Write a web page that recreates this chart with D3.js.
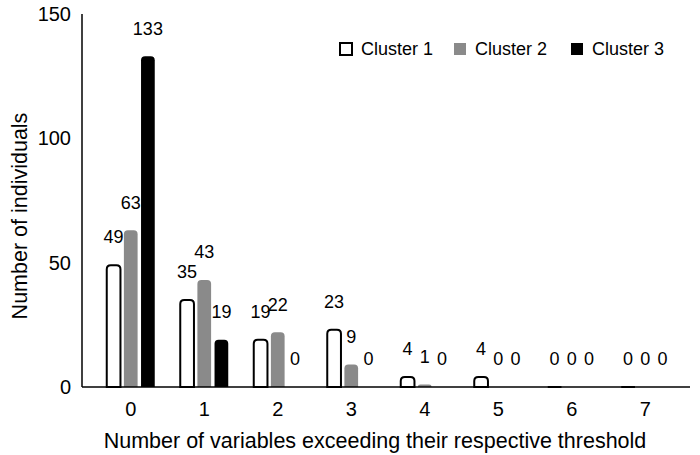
<!DOCTYPE html>
<html>
<head>
<meta charset="utf-8">
<script src="https://cdn.jsdelivr.net/npm/d3@7"></script>
<style>
  body { margin: 0; background: #fff; }
  text { font-family: "Liberation Sans", Arial, sans-serif; fill: #000; }
</style>
</head>
<body>
<svg id="chart" width="700" height="455"></svg>
<script>
const categories = ["0", "1", "2", "3", "4", "5", "6", "7"];
const seriesNames = ["Cluster 1", "Cluster 2", "Cluster 3"];
const cluster1 = [49, 35, 19, 23, 4, 4, 0, 0];
const cluster2 = [63, 43, 22, 9, 1, 0, 0, 0];
const cluster3 = [133, 19, 0, 0, 0, 0, 0, 0];
const yTicks = [0, 50, 100, 150];

const series = [
  { name: seriesNames[0], values: cluster1, fill: "#fff", stroke: "#000" },
  { name: seriesNames[1], values: cluster2, fill: "#8a8a8a", stroke: "none" },
  { name: seriesNames[2], values: cluster3, fill: "#000", stroke: "none" },
];

const svg = d3.select("#chart");

const x = d3.scaleBand().domain(categories).range([94, 682]);
const xInner = d3.scaleBand().domain(seriesNames).range([-24, 24]).paddingInner(0.2);
const y = d3.scaleLinear().domain([0, 150]).range([387, 14]);

// bar with rounded top corners (also draws a flat line when value is 0)
function barPath(x0, w, top, base, r) {
  r = Math.min(r, (base - top), w / 2);
  return `M${x0},${base}V${top + r}Q${x0},${top} ${x0 + r},${top}H${x0 + w - r}Q${x0 + w},${top} ${x0 + w},${top + r}V${base}Z`;
}

const groups = svg.selectAll(".grp")
  .data(series)
  .enter()
  .append("g")
  .attr("class", "grp");

groups.each(function (s) {
  const g = d3.select(this);
  const bw = xInner.bandwidth();
  s.values.forEach((v, i) => {
    const cx = x(categories[i]) + x.bandwidth() / 2 + xInner(s.name);
    if (v > 0 || s.stroke !== "none") {
      g.append("path")
        .attr("d", barPath(cx, bw, y(v), y(0), 4))
        .attr("fill", s.fill)
        .attr("stroke", s.stroke)
        .attr("stroke-width", s.stroke === "none" ? 0 : 2);
    }
    g.append("text")
      .attr("x", cx + bw / 2)
      .attr("y", y(v) - 28)
      .attr("dy", "0.35em")
      .attr("text-anchor", "middle")
      .style("font-size", "18px")
      .text(v);
  });
});

// axes
svg.append("line")
  .attr("x1", 82).attr("x2", 82)
  .attr("y1", y(150)).attr("y2", y(0))
  .attr("stroke", "#000").attr("stroke-width", 1.5);
svg.append("line")
  .attr("x1", 82).attr("x2", 690)
  .attr("y1", y(0)).attr("y2", y(0))
  .attr("stroke", "#000").attr("stroke-width", 1.5);

svg.selectAll(".ytick")
  .data(yTicks)
  .enter()
  .append("text")
  .attr("class", "ytick")
  .attr("x", 71)
  .attr("y", (d) => y(d))
  .attr("dy", "0.35em")
  .attr("text-anchor", "end")
  .style("font-size", "20px")
  .text((d) => d);

svg.selectAll(".xtick")
  .data(categories)
  .enter()
  .append("text")
  .attr("class", "xtick")
  .attr("x", (d) => x(d) + x.bandwidth() / 2)
  .attr("y", 409)
  .attr("dy", "0.35em")
  .attr("text-anchor", "middle")
  .style("font-size", "20px")
  .text((d) => d);

svg.append("text")
  .attr("x", 375)
  .attr("y", 440)
  .attr("dy", "0.35em")
  .attr("text-anchor", "middle")
  .style("font-size", "21.5px")
  .text("Number of variables exceeding their respective threshold");

svg.append("text")
  .attr("transform", "translate(19,216) rotate(-90)")
  .attr("dy", "0.35em")
  .attr("text-anchor", "middle")
  .style("font-size", "21.5px")
  .text("Number of individuals");

// legend
const legendX = [339, 453, 570];
const legend = svg.selectAll(".legend")
  .data(series)
  .enter()
  .append("g")
  .attr("class", "legend")
  .attr("transform", (d, i) => `translate(${legendX[i]},49)`);

legend.append("rect")
  .attr("x", 1).attr("y", -6)
  .attr("width", 12).attr("height", 12)
  .attr("fill", (d) => d.fill)
  .attr("stroke", (d) => d.stroke)
  .attr("stroke-width", 2);

legend.append("text")
  .attr("x", 22)
  .attr("y", 0)
  .attr("dy", "0.35em")
  .style("font-size", "18px")
  .text((d) => d.name);
</script>
</body>
</html>
